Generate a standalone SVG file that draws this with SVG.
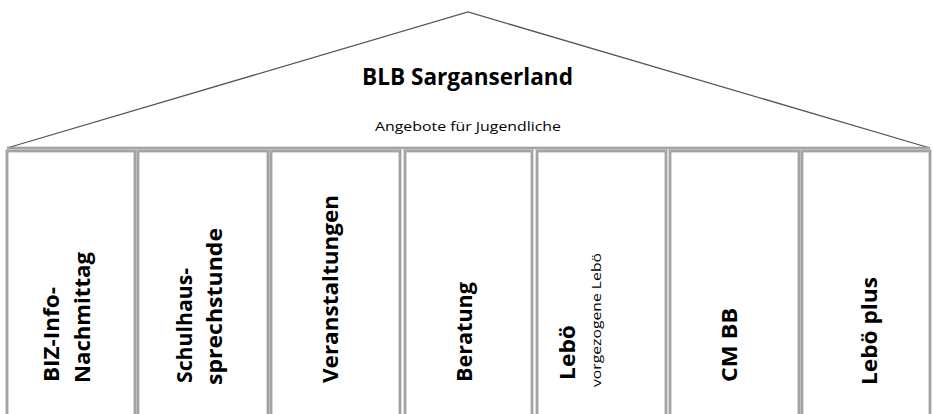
<svg xmlns="http://www.w3.org/2000/svg" width="933" height="414" viewBox="0 0 933 414">
<style>
.roof{fill:#fff;stroke:#555;stroke-width:1.3}
.col{fill:#fff;stroke:#808080;stroke-width:2.6}
.colin{fill:none;stroke:#d8d8d8;stroke-width:0.8}
.lbl{font-family:"Open Sans","Liberation Sans",sans-serif;font-weight:bold;font-size:21px;fill:#000}
.small{font-family:"Open Sans","Liberation Sans",sans-serif;font-size:13px;fill:#000}
.title{font-family:"Open Sans","Liberation Sans",sans-serif;font-weight:bold;font-size:23px;fill:#000}
</style>
<rect width="933" height="414" fill="#fff"/>
<g id="roof">
<polygon class="roof" points="7,148 468,12 930,148"/>
<line x1="7" y1="148" x2="930" y2="148" stroke="#808080" stroke-width="2.6"/>
<line x1="7" y1="148" x2="930" y2="148" stroke="#d8d8d8" stroke-width="0.8"/>
<text class="title" x="467.5" y="85" text-anchor="middle" textLength="211" lengthAdjust="spacingAndGlyphs">BLB Sarganserland</text>
<text class="small" x="468" y="131" text-anchor="middle" textLength="186" lengthAdjust="spacingAndGlyphs">Angebote für Jugendliche</text>
</g>
<g id="col1">
<rect class="col" x="7" y="151" width="128" height="275"/>
<rect class="colin" x="7" y="151" width="128" height="275"/>
<text class="lbl" transform="translate(58.5,382) rotate(-90)" textLength="95" lengthAdjust="spacingAndGlyphs">BIZ-Info-</text>
<text class="lbl" transform="translate(90,383) rotate(-90)" textLength="131" lengthAdjust="spacingAndGlyphs">Nachmittag</text>
</g>
<g id="col2">
<rect class="col" x="138" y="151" width="130" height="275"/>
<rect class="colin" x="138" y="151" width="130" height="275"/>
<text class="lbl" transform="translate(191.7,383) rotate(-90)" textLength="115" lengthAdjust="spacingAndGlyphs">Schulhaus-</text>
<text class="lbl" transform="translate(221.7,385) rotate(-90)" textLength="157" lengthAdjust="spacingAndGlyphs">sprechstunde</text>
</g>
<g id="col3">
<rect class="col" x="271" y="151" width="129" height="275"/>
<rect class="colin" x="271" y="151" width="129" height="275"/>
<text class="lbl" transform="translate(338,383) rotate(-90)" textLength="188" lengthAdjust="spacingAndGlyphs">Veranstaltungen</text>
</g>
<g id="col4">
<rect class="col" x="405" y="151" width="127" height="275"/>
<rect class="colin" x="405" y="151" width="127" height="275"/>
<text class="lbl" transform="translate(471.7,382) rotate(-90)" textLength="100" lengthAdjust="spacingAndGlyphs">Beratung</text>
</g>
<g id="col5">
<rect class="col" x="537" y="151" width="129" height="275"/>
<rect class="colin" x="537" y="151" width="129" height="275"/>
<text class="lbl" transform="translate(575,380) rotate(-90)" textLength="55" lengthAdjust="spacingAndGlyphs">Lebö</text>
<text class="small" transform="translate(600.5,387) rotate(-90)" textLength="134" lengthAdjust="spacingAndGlyphs">vorgezogene Lebö</text>
</g>
<g id="col6">
<rect class="col" x="670" y="151" width="129" height="275"/>
<rect class="colin" x="670" y="151" width="129" height="275"/>
<text class="lbl" transform="translate(736.7,382) rotate(-90)" textLength="74" lengthAdjust="spacingAndGlyphs">CM BB</text>
</g>
<g id="col7">
<rect class="col" x="802" y="151" width="128" height="275"/>
<rect class="colin" x="802" y="151" width="128" height="275"/>
<text class="lbl" transform="translate(876.7,385) rotate(-90)" textLength="108" lengthAdjust="spacingAndGlyphs">Lebö plus</text>
</g>
<g id="connectors"/>
</svg>
